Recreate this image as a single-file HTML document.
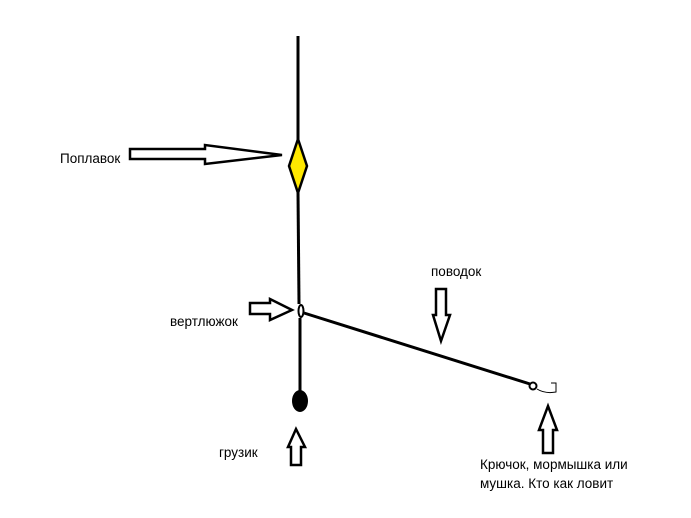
<!DOCTYPE html>
<html><head><meta charset="utf-8"><style>
html,body{margin:0;padding:0;background:#fff;}
svg{display:block}
text{font-family:"Liberation Sans",sans-serif;font-size:13.5px;fill:#000}
</style></head><body>
<svg width="691" height="518" viewBox="0 0 691 518" xmlns="http://www.w3.org/2000/svg">
<rect width="691" height="518" fill="#fff"/>
<g stroke="#000" stroke-width="3" fill="none">
<line x1="298" y1="36" x2="298" y2="140"/>
<line x1="298" y1="192" x2="299" y2="304"/>
<line x1="300" y1="318" x2="300" y2="392"/>
<line x1="304" y1="313" x2="530" y2="384"/>
</g>
<polygon points="298,139 307,166 298,193 289,166" fill="#ffe800" stroke="#000" stroke-width="2.5"/>
<ellipse cx="301" cy="311" rx="2.5" ry="6" fill="#fff" stroke="#000" stroke-width="2"/>
<ellipse cx="300" cy="401" rx="8" ry="11" fill="#000"/>
<circle cx="533" cy="386" r="3.5" fill="#fff" stroke="#000" stroke-width="2"/>
<path d="M537,389 Q545,394 556,392 L556,383 L551,383" fill="none" stroke="#000" stroke-width="1"/>
<g fill="#fff" stroke="#000" stroke-width="2.5" stroke-linejoin="miter">
<polygon points="130,149 205,149 205,145 282,155 205,164 205,159 130,159"/>
<polygon points="250,303 270,303 270,299 292,310 270,320 270,314 250,314"/>
<polygon points="291,465 291,447 288,447 296,429 305,447 301,447 301,465"/>
<polygon points="436,289 446,289 446,315 450,315 441,341 433,315 436,315"/>
<polygon points="543,453 543,430 539,430 548,406 557,430 553,430 553,453"/>
</g>
<text x="60" y="163">Поплавок</text>
<text x="170" y="326">вертлюжок</text>
<text x="431" y="276">поводок</text>
<text x="219" y="457">грузик</text>
<text x="480" y="469">Крючок, мормышка или</text>
<text x="480" y="488">мушка. Кто как ловит</text>
</svg>
</body></html>
